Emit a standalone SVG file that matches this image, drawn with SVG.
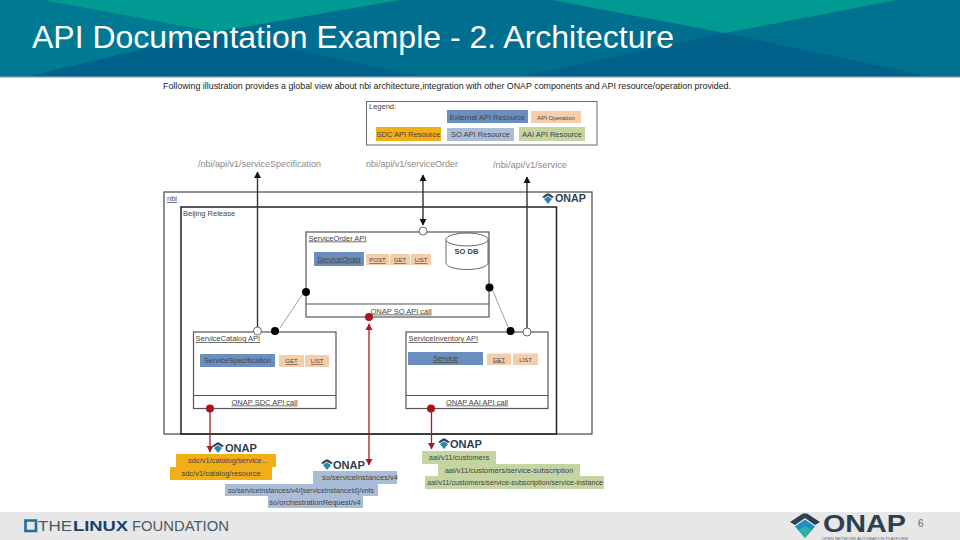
<svg xmlns="http://www.w3.org/2000/svg" width="960" height="540" viewBox="0 0 960 540">
<style>
text{font-family:"Liberation Sans",Arial,sans-serif}
.box{fill:#fff;stroke:#555;stroke-width:1.2}
.frame{fill:none;stroke:#222;stroke-width:1.5}
.t{font-size:7.5px;fill:#444}
.c{font-size:7.5px;fill:#444;text-anchor:middle}
.u{text-decoration:underline}
.res{fill:#6a8fbe}
.res2{fill:#a9bcd8}
.op{fill:#f6cdaa}
.y{fill:#f0ae18}
.g{fill:#c5d5a2}
.path{font-size:9.500px;fill:#8a8a8a}
.ln{stroke:#333;stroke-width:1.4;fill:none}
.red{stroke:#a51c24;stroke-width:1.3;fill:none}
.thin{stroke:#777;stroke-width:.7;fill:none}
.wd{fill:#fff;stroke:#444;stroke-width:.8}
.bd{fill:#000}
.rd{fill:#b0101c}
.ot{font-size:11px;font-weight:bold;fill:#2d3f50}
</style>
<defs>
<marker id="ab" markerWidth="7" markerHeight="8" refX="6" refY="4" orient="auto-start-reverse" markerUnits="userSpaceOnUse"><path d="M0 0.500L6.500 4L0 7.500z" fill="#111"/></marker>
<marker id="ar" markerWidth="7" markerHeight="8" refX="6" refY="4" orient="auto-start-reverse" markerUnits="userSpaceOnUse"><path d="M0 0.500L6.500 4L0 7.500z" fill="#a51c24"/></marker>
<g id="mini"><path d="M-6 -2L-1 -5.500H1L6 -2L4 -1L0 -3.500L-4 -1z" fill="#2d3f50"/><path d="M-4 0L0 -2.800L4 0L0 5z" fill="#2388b5"/></g>
</defs>
<rect width="960" height="540" fill="#fff"/>
<g id="header">
<rect width="960" height="77" fill="#006e8f"/>
<path d="M0 0H43L215 32L30 76H0z" fill="#007a92"/>
<path d="M897 0H960V76H927L725 33z" fill="#00728f"/>
<path d="M43 0H400L215 32z" fill="#009a93"/>
<path d="M552 0H897L725 33z" fill="#009a93"/>
<path d="M215 32L417 76H30z" fill="#00628b"/>
<path d="M725 33L927 76H523z" fill="#00628b"/>
<rect y="76" width="960" height="1.500" fill="#5a909f"/>
<text x="32" y="47.500" font-size="31.500" fill="#fff" textLength="642" lengthAdjust="spacingAndGlyphs">API Documentation Example - 2. Architecture</text>
</g>
<text id="intro" x="163" y="89" font-size="8.600" fill="#222" textLength="568" lengthAdjust="spacingAndGlyphs">Following illustration provides a global view about nbi architecture,integration with other ONAP components and API resource/operation provided.</text>
<g id="legend">
<rect x="366.500" y="101.500" width="230.500" height="43.500" fill="#fff" stroke="#666" stroke-width="1"/>
<text class="t" x="369" y="109">Legend:</text>
<rect class="res" x="447" y="110" width="81" height="13"/><text class="c" x="487.500" y="119.500">External API Resource</text>
<rect class="op" x="531" y="111" width="50" height="12"/><text class="c" x="556" y="119.500" style="font-size:6px">API Operation</text>
<rect class="y" x="376" y="127" width="65" height="14"/><text class="c" x="408.500" y="136.500">SDC API Resource</text>
<rect class="res2" x="447" y="128" width="67" height="13"/><text class="c" x="480.500" y="136.500">SO API Resource</text>
<rect class="g" x="519" y="127" width="66" height="14"/><text class="c" x="552" y="136.500">AAI API Resource</text>
</g>
<text class="path" x="198" y="167" textLength="123" lengthAdjust="spacingAndGlyphs">/nbi/api/v1/serviceSpecification</text>
<text class="path" x="366" y="167" textLength="92" lengthAdjust="spacingAndGlyphs">nbi/api/v1/serviceOrder</text>
<text class="path" x="493" y="168" textLength="74" lengthAdjust="spacingAndGlyphs">/nbi/api/v1/service</text>
<g id="nbi"><rect x="164" y="192" width="428" height="242" fill="#fff" stroke="#444" stroke-width="1.2"/><text class="t u" x="167" y="201">nbi</text></g>
<g id="beijing"><rect class="frame" x="181" y="207" width="375.500" height="227"/><text class="t" x="183" y="216">Beijing Release</text></g>
<g id="logo-top"><use href="#mini" x="548" y="199"/><text class="ot" x="555" y="202" textLength="31" lengthAdjust="spacingAndGlyphs">ONAP</text></g>
<g id="service-order">
<rect class="box" x="306" y="232" width="183" height="85"/><line class="box" x1="306" y1="304" x2="489" y2="304"/>
<text class="t u" x="308.500" y="240.500">ServiceOrder API</text>
<rect class="res" x="314" y="252" width="50" height="14"/><text class="c u" x="339" y="261.500">ServiceOrder</text>
<rect class="op" x="366" y="254" width="23" height="11"/><text class="c u" x="377.500" y="262" style="font-size:6px">POST</text>
<rect class="op" x="390" y="254" width="20" height="11"/><text class="c u" x="400" y="262" style="font-size:6px">GET</text>
<rect class="op" x="411" y="254" width="20" height="11"/><text class="c u" x="421" y="262" style="font-size:6px">LIST</text>
<text class="c u" x="401" y="313.500">ONAP SO API call</text>
</g>
<g id="so-db">
<path d="M446 239.500V263C446 266.500 455 269.500 467 269.500S488 266.500 488 263V239.500" fill="#fff" stroke="#444" stroke-width=".8"/>
<ellipse cx="467" cy="239.500" rx="21" ry="6.500" fill="#fff" stroke="#444" stroke-width=".8"/>
<text class="c" x="466.500" y="254" style="font-weight:bold">SO DB</text>
</g>
<g id="service-catalog">
<rect class="box" x="193.500" y="332" width="142.500" height="76.500"/><line class="box" x1="193.500" y1="395.500" x2="336" y2="395.500"/>
<text class="t u" x="195.500" y="341">ServiceCatalog API</text>
<rect class="res" x="200" y="354" width="75" height="13"/><text class="c" x="237.500" y="363">ServiceSpecification</text>
<rect class="op" x="279" y="355" width="25" height="12"/><text class="c u" x="291.500" y="363" style="font-size:6px">GET</text>
<rect class="op" x="305" y="355" width="24" height="12"/><text class="c u" x="317" y="363" style="font-size:6px">LIST</text>
<text class="c u" x="264.500" y="404.500">ONAP SDC API call</text>
</g>
<g id="service-inventory">
<rect class="box" x="406" y="332" width="142" height="76.500"/><line class="box" x1="406" y1="395.500" x2="548" y2="395.500"/>
<text class="t u" x="408.500" y="341">ServiceInventory API</text>
<rect class="res" x="408" y="352" width="75" height="13"/><text class="c u" x="445.500" y="361">Service</text>
<rect class="op" x="487" y="353.500" width="24" height="11.500"/><text class="c u" x="499" y="361.500" style="font-size:6px">GET</text>
<rect class="op" x="513" y="353.500" width="25" height="11.500"/><text class="c" x="525.500" y="361.500" style="font-size:6px">LIST</text>
<text class="c u" x="477" y="404.500">ONAP AAI API call</text>
</g>
<g id="connectors">
<path class="ln" d="M257.500 327V172" marker-end="url(#ab)"/>
<path class="ln" d="M423 225V175" marker-start="url(#ab)" marker-end="url(#ab)"/>
<path class="ln" d="M527 328V177" marker-end="url(#ab)"/>
<path class="thin" d="M280 328L302 295"/>
<path class="thin" d="M493 291L508 327"/>
<path class="red" d="M210 408V452" marker-end="url(#ar)"/>
<path class="red" d="M369 465V324" marker-start="url(#ar)" marker-end="url(#ar)"/>
<path class="red" d="M431.500 408V449" marker-end="url(#ar)"/>
<circle class="wd" cx="423" cy="231" r="4"/><circle class="wd" cx="257.500" cy="331" r="4"/><circle class="wd" cx="527" cy="332" r="4"/>
<circle class="bd" cx="306" cy="292" r="4"/><circle class="bd" cx="275" cy="331" r="4"/><circle class="bd" cx="489.500" cy="287.500" r="4"/><circle class="bd" cx="510.500" cy="331" r="4"/>
<circle class="rd" cx="369" cy="317" r="4"/><circle class="rd" cx="210" cy="408.500" r="4"/><circle class="rd" cx="431" cy="408.500" r="4"/>
</g>
<g id="sdc-list">
<use href="#mini" x="218" y="448"/><text class="ot" x="225" y="452" textLength="32" lengthAdjust="spacingAndGlyphs">ONAP</text>
<rect class="y" x="176" y="454" width="100" height="13"/><text class="c" x="228" y="463">sdc/v1/catalog/service...</text>
<rect class="y" x="170" y="467" width="102" height="13"/><text class="c" x="221" y="476">sdc/v1/catalog/resource</text>
</g>
<g id="so-list">
<use href="#mini" x="327" y="465"/><text class="ot" x="333" y="469" textLength="32" lengthAdjust="spacingAndGlyphs">ONAP</text>
<rect class="res2" x="313" y="471" width="84" height="13"/><text class="c" x="360" y="480">so/serviceInstances/v4</text>
<rect class="res2" x="225" y="484" width="153" height="12"/><text class="c" x="301" y="493" textLength="146" lengthAdjust="spacingAndGlyphs">so/serviceInstances/v4/{serviceInstanceId}/vnfs</text>
<rect class="res2" x="268" y="496" width="95" height="12"/><text class="c" x="315" y="505">so/orchestrationRequest/v4</text>
</g>
<g id="aai-list">
<use href="#mini" x="444" y="444"/><text class="ot" x="450" y="448" textLength="32" lengthAdjust="spacingAndGlyphs">ONAP</text>
<rect class="g" x="422" y="451" width="74" height="13"/><text class="c" x="459" y="460">aai/v11/customers</text>
<rect class="g" x="438" y="464" width="142" height="12"/><text class="c" x="509" y="473">aai/v11/customers/service-subscription</text>
<rect class="g" x="425" y="476" width="179" height="13"/><text class="c" x="515" y="485" textLength="176" lengthAdjust="spacingAndGlyphs">aai/v11/customers/service-subscription/service-instance</text>
</g>
<g id="footer">
<rect y="512" width="960" height="28" fill="#e7e7e7"/>
<path d="M25.500 520.500H36V531H25.500z" fill="none" stroke="#1c6f9e" stroke-width="2.600"/>
<text x="38" y="531" font-size="15" fill="#4a5a66" textLength="34" lengthAdjust="spacingAndGlyphs">THE</text>
<text x="73" y="531" font-size="15" font-weight="bold" fill="#1c3f66" textLength="55" lengthAdjust="spacingAndGlyphs">LINUX</text>
<text x="132" y="531" font-size="15" fill="#4a5a66" textLength="97" lengthAdjust="spacingAndGlyphs">FOUNDATION</text>
<path d="M790 522L803 513.500H807L820 522L815 525L805 518L795 525z" fill="#2d3f50"/>
<path d="M795 526.500L805 519.500L815 526.500L805 538z" fill="#1e8fc0"/>
<path d="M798.500 530L805 526L811.500 530L805 538z" fill="#2bb3a8"/>
<text x="823" y="531.500" font-size="24" font-weight="bold" fill="#2d3f50" textLength="83" lengthAdjust="spacingAndGlyphs">ONAP</text>
<text x="822" y="540" font-size="3.400" fill="#667" textLength="86" lengthAdjust="spacingAndGlyphs">OPEN NETWORK AUTOMATION PLATFORM</text>
<text x="918" y="527" font-size="10" fill="#666">6</text>
</g>
</svg>
